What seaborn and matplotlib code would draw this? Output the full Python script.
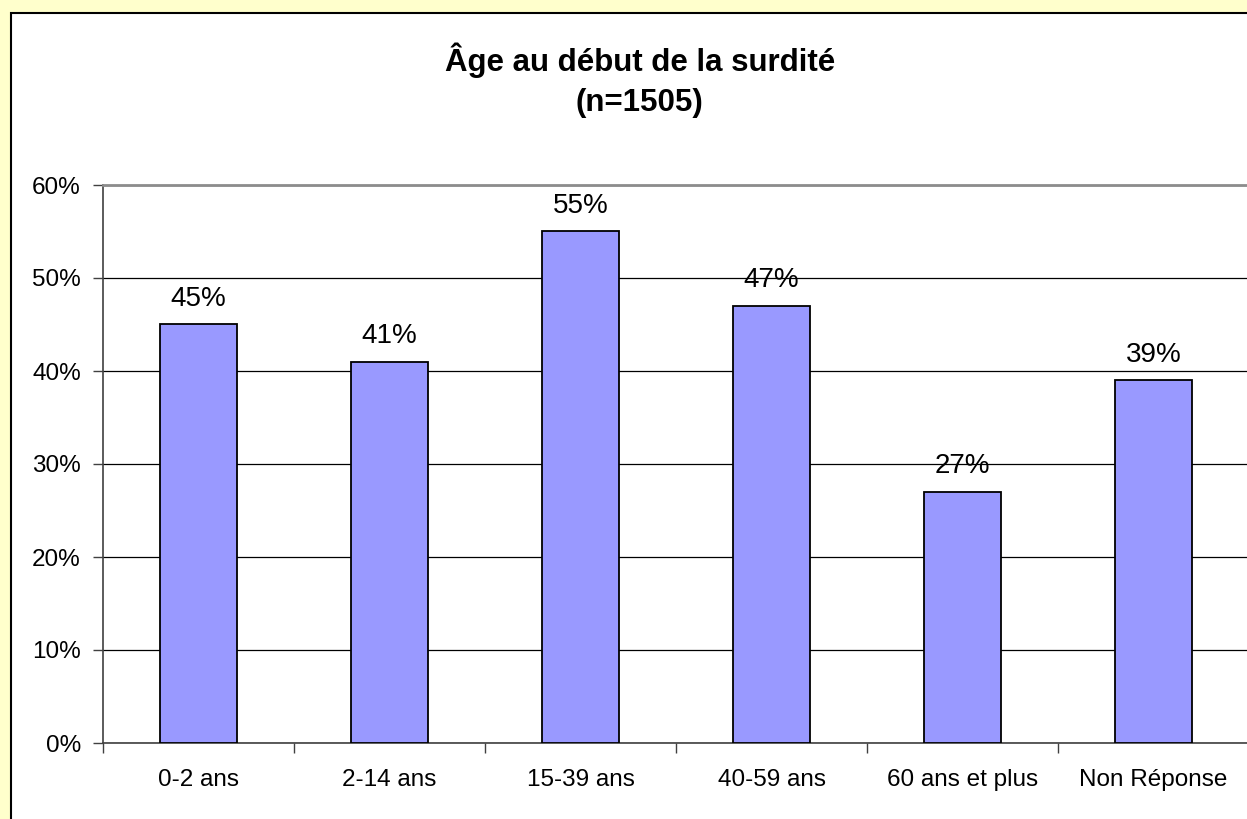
import numpy as np
import pandas as pd
import matplotlib
matplotlib.use("Agg")
import matplotlib.pyplot as plt
import matplotlib.patches as mpatches
from matplotlib.ticker import FixedLocator, PercentFormatter
import seaborn as sns

# Data
categories = ["0-2 ans", "2-14 ans", "15-39 ans", "40-59 ans", "60 ans et plus", "Non Réponse"]
values = [45, 41, 55, 47, 27, 39]
y_ticks = [0, 10, 20, 30, 40, 50, 60]

df = pd.DataFrame({"cat": categories, "pct": values})

sns.set_theme(style="white")
plt.rcParams["font.family"] = ["Liberation Sans", "DejaVu Sans"]
plt.rcParams["text.color"] = "black"
plt.rcParams["xtick.color"] = "black"
plt.rcParams["ytick.color"] = "black"

fig = plt.figure(figsize=(12.47, 8.19), dpi=100)
fig.patch.set_facecolor("#FFFFCC")

# white chart area with black border (runs off right/bottom edges)
W, H = 1247, 819
panel = mpatches.Rectangle((11 / W, -0.1), 1.2, 1 - 13 / H + 0.1,
                           transform=fig.transFigure, facecolor="white",
                           edgecolor="black", linewidth=1.5, zorder=-1)
fig.patches.append(panel)

ax = fig.add_axes([103 / W, 1 - 743 / H, 1146 / W, (743 - 185) / H])
ax.set_zorder(2)
ax.set_facecolor("none")

sns.barplot(data=df, x="cat", y="pct", color="#9999FF", width=0.4,
            edgecolor="black", linewidth=1.3, saturation=1, ax=ax, zorder=3)

ax.set_xlim(-0.5, len(categories) - 0.5)
ax.set_ylim(0, 60)
ax.set_yticks(y_ticks)
ax.yaxis.set_major_formatter(PercentFormatter(decimals=0))
ax.yaxis.grid(True, color="black", linewidth=0.9)
ax.set_axisbelow(True)

# category boundary ticks on the x axis
ax.xaxis.set_minor_locator(FixedLocator(np.arange(-0.5, len(categories), 1.0)))
ax.tick_params(axis="x", which="major", length=0, pad=19, labelsize=17.5)
ax.tick_params(axis="x", which="minor", bottom=True, length=7, width=1, color="#404040")
ax.tick_params(axis="y", left=True, length=7, width=1, color="#404040", pad=9, labelsize=17.5)

ax.set_xlabel("")
ax.set_ylabel("")

for side in ["left", "bottom"]:
    ax.spines[side].set_color("#404040")
    ax.spines[side].set_linewidth(1.2)
ax.spines["top"].set_color("#8c8c8c")
ax.spines["top"].set_linewidth(2)
ax.spines["right"].set_visible(False)

for i, v in enumerate(values):
    ax.annotate(f"{v}%", (i, v), xytext=(0, 9), textcoords="offset points",
                ha="center", va="bottom", fontsize=20, color="black")

fig.text(0.513, 1 - 60 / H, "Âge au début de la surdité", ha="center", va="center",
         fontsize=22.5, fontweight="bold")
fig.text(0.513, 1 - 103 / H, "(n=1505)", ha="center", va="center",
         fontsize=22.5, fontweight="bold")

fig.savefig("out.png", dpi=100, facecolor=fig.get_facecolor())
